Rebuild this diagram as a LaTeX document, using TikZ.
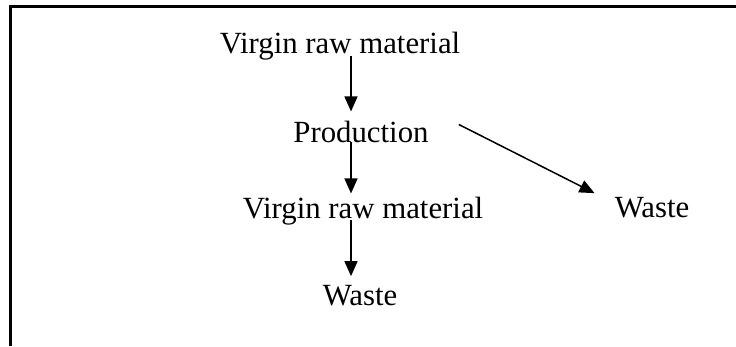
\documentclass[tikz,border=0pt]{standalone}
\usepackage{fontspec}
\setmainfont{Liberation Serif}
\usetikzlibrary{arrows.meta}
\begin{document}
\begin{tikzpicture}[x=1pt,y=-1pt,
  lbl/.style={inner sep=0pt,anchor=base,font=\fontsize{30.8}{36}\selectfont},
  arr/.style={line width=1.5pt,-{Triangle[length=15pt,width=13pt]}},
  frame/.style={line width=2.4pt}]
\useasboundingbox (0,0) rectangle (736,346);
% open frame: left and top edges only
\draw[frame] (10.3,346) |- (736,6.5);

\node[lbl] (v1) at (340,53) {Virgin raw material};
\node[lbl] (prod) at (361,142) {Production};
\node[lbl] (v2) at (363,218) {Virgin raw material};
\node[lbl] (w1) at (360,305) {Waste};
\node[lbl] (w2) at (652,217) {Waste};

\coordinate (spine) at (351,0);
\draw[arr,shorten >=9pt] ([yshift=-3pt]v1.base -| spine) -- (prod.north -| spine);
\draw[arr,shorten >=3pt] (prod.base -| spine) -- (v2.north -| spine);
\draw[arr,shorten >=8.5pt] ([yshift=-2pt]v2.base -| spine) -- (w1.north -| spine);
\draw[arr] ([shift={(30,-7)}]prod.east) -- ([shift={(-20,-14)}]w2.west);
\end{tikzpicture}
\end{document}
